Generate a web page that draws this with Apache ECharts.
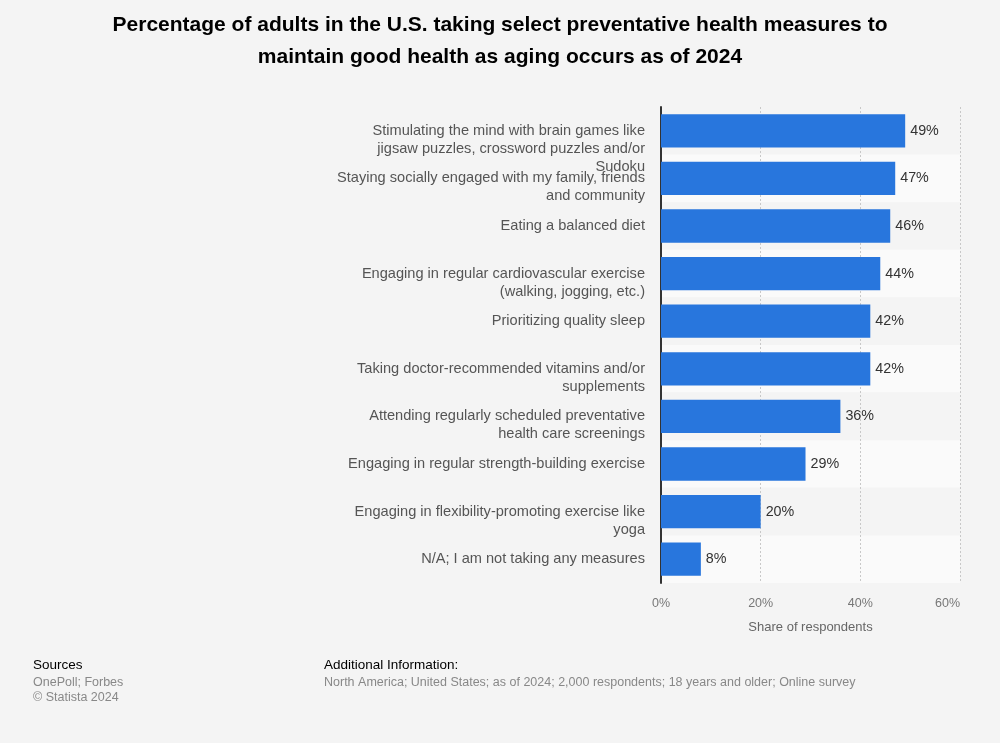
<!DOCTYPE html>
<html><head><meta charset="utf-8">
<script src="https://cdn.jsdelivr.net/npm/echarts@6/dist/echarts.min.js"></script>
<style>html,body{margin:0;padding:0;background:#f4f4f4;}#c{width:1000px;height:743px;}</style>
</head><body><div id="c"></div>
<script>
const categories = [
  "Stimulating the mind with brain games like\njigsaw puzzles, crossword puzzles and/or\nSudoku",
  "Staying socially engaged with my family, friends\nand community",
  "Eating a balanced diet",
  "Engaging in regular cardiovascular exercise\n(walking, jogging, etc.)",
  "Prioritizing quality sleep",
  "Taking doctor-recommended vitamins and/or\nsupplements",
  "Attending regularly scheduled preventative\nhealth care screenings",
  "Engaging in regular strength-building exercise",
  "Engaging in flexibility-promoting exercise like\nyoga",
  "N/A; I am not taking any measures"
];
const values = [49, 47, 46, 44, 42, 42, 36, 29, 20, 8];
const xTicks = [0, 20, 40, 60];

const chart = echarts.init(document.getElementById('c'));
const font = '"Liberation Sans", Arial, sans-serif';
chart.setOption({
  backgroundColor: '#f4f4f4',
  textStyle: {fontFamily: font},
  title: {
    text: 'Percentage of adults in the U.S. taking select preventative health measures to\nmaintain good health as aging occurs as of 2024',
    left: 'center', top: 4,
    textStyle: {fontFamily: font, fontSize: 21, fontWeight: 'bold', color: '#000', lineHeight: 32}
  },
  grid: {left: 661, right: 40, top: 107, bottom: 160, containLabel: false},
  xAxis: {
    type: 'value', min: xTicks[0], max: xTicks[xTicks.length-1], interval: 20,
    name: 'Share of respondents', nameLocation: 'middle', nameGap: 38,
    nameTextStyle: {color: '#666', fontSize: 13, fontFamily: font},
    axisLabel: {formatter: v => v + '%', color: '#777', fontSize: 12.5, margin: 14, fontFamily: font, alignMaxLabel: 'right'},
    axisLine: {show: false}, axisTick: {show: false},
    splitLine: {show: true, lineStyle: {color: '#c8c8c8', type: [2, 2], width: 1}}
  },
  yAxis: {
    type: 'category', data: categories, inverse: true,
    axisLine: {show: true, lineStyle: {color: '#333', width: 2}},
    axisTick: {show: false},
    splitArea: {show: true, areaStyle: {color: ['#f4f4f4', '#fafafa']}},
    axisLabel: {
      interval: 0, hideOverlap: false,
      color: '#555', fontSize: 14.6, lineHeight: 18, margin: 16, align: 'right', fontFamily: font,
      formatter: function (v) {
        const n = v.split('\n').length;
        return '\n'.repeat(n - 1) + v;
      }
    }
  },
  series: [{
    type: 'bar', data: values, barCategoryGap: '30%',
    itemStyle: {color: '#2876dd'},
    label: {show: true, position: 'right', distance: 5, formatter: '{c}%', color: '#333', fontSize: 14.3, fontFamily: font}
  }],
  graphic: [
    {type: 'text', left: 33, top: 658, style: {text: 'Sources', fontSize: 13.5, fill: '#000', fontFamily: font}},
    {type: 'text', left: 33, top: 676, style: {text: 'OnePoll; Forbes', fontSize: 12.5, fill: '#888', fontFamily: font}},
    {type: 'text', left: 33, top: 691, style: {text: '© Statista 2024', fontSize: 12.5, fill: '#888', fontFamily: font}},
    {type: 'text', left: 324, top: 658, style: {text: 'Additional Information:', fontSize: 13.5, fill: '#000', fontFamily: font}},
    {type: 'text', left: 324, top: 676, style: {text: 'North America; United States; as of 2024; 2,000 respondents; 18 years and older; Online survey', fontSize: 12.5, fill: '#888', fontFamily: font}}
  ]
});
</script></body></html>
